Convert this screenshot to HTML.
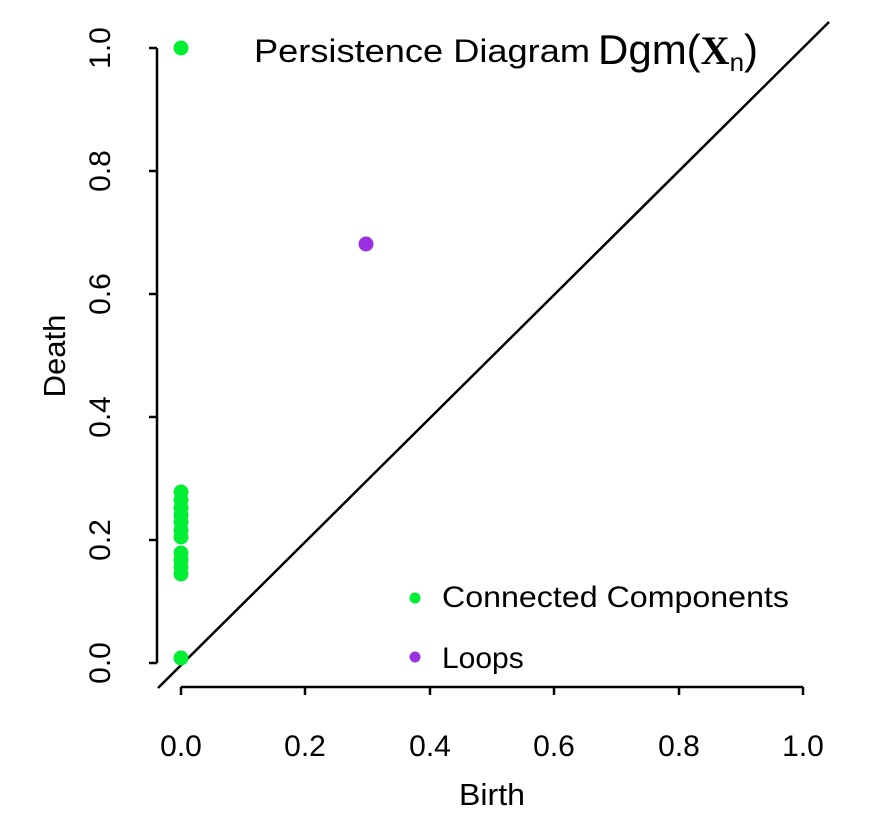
<!DOCTYPE html>
<html><head><meta charset="utf-8"><style>body{margin:0;background:#fff}svg{display:block}text{font-family:"Liberation Sans",sans-serif;fill:#000}</style></head><body>
<svg width="871" height="823" viewBox="0 0 871 823" xmlns="http://www.w3.org/2000/svg">
<g stroke="#000" stroke-width="2.5" fill="none">
<line x1="157" y1="48" x2="157" y2="663"/>
<line x1="149" y1="48" x2="157" y2="48"/>
<line x1="149" y1="171" x2="157" y2="171"/>
<line x1="149" y1="294" x2="157" y2="294"/>
<line x1="149" y1="417" x2="157" y2="417"/>
<line x1="149" y1="540" x2="157" y2="540"/>
<line x1="149" y1="663" x2="157" y2="663"/>
<line x1="181" y1="687" x2="803" y2="687"/>
<line x1="181" y1="687" x2="181" y2="695"/>
<line x1="305" y1="687" x2="305" y2="695"/>
<line x1="430" y1="687" x2="430" y2="695"/>
<line x1="554" y1="687" x2="554" y2="695"/>
<line x1="679" y1="687" x2="679" y2="695"/>
<line x1="803" y1="687" x2="803" y2="695"/>
<line x1="158" y1="688" x2="829" y2="22"/>
</g>
<g font-size="30" text-anchor="middle">
<text x="181" y="756">0.0</text><text x="305" y="756">0.2</text><text x="430" y="756">0.4</text><text x="554" y="756">0.6</text><text x="679" y="756">0.8</text><text x="803" y="756">1.0</text>
<text x="492" y="805" font-size="31" textLength="66" lengthAdjust="spacingAndGlyphs">Birth</text>
<text transform="translate(110,48) rotate(-90)">1.0</text>
<text transform="translate(110,171) rotate(-90)">0.8</text>
<text transform="translate(110,294) rotate(-90)">0.6</text>
<text transform="translate(110,417) rotate(-90)">0.4</text>
<text transform="translate(110,540) rotate(-90)">0.2</text>
<text transform="translate(110,663) rotate(-90)">0.0</text>
<text transform="translate(65,356) rotate(-90)" font-size="31">Death</text>
</g>
<text x="254" y="62" font-size="32" textLength="336" lengthAdjust="spacingAndGlyphs">Persistence Diagram</text>
<text x="598" y="64" font-size="42">Dgm(<tspan font-family="Liberation Serif" font-weight="bold" font-size="40">X</tspan><tspan font-size="26" dy="7">n</tspan><tspan dy="-7">)</tspan></text>
<g fill="#00ee33">
<circle cx="181" cy="48" r="7.5"/>
<circle cx="181" cy="492" r="7.5"/><circle cx="181" cy="500" r="7.5"/><circle cx="181" cy="508" r="7.5"/><circle cx="181" cy="515" r="7.5"/><circle cx="181" cy="522" r="7.5"/><circle cx="181" cy="530" r="7.5"/><circle cx="181" cy="537" r="7.5"/>
<circle cx="181" cy="553" r="7.5"/><circle cx="181" cy="560" r="7.5"/><circle cx="181" cy="567" r="7.5"/><circle cx="181" cy="574" r="7.5"/>
<circle cx="181" cy="658" r="7.5"/>
<circle cx="415" cy="598" r="5.5"/>
</g>
<circle cx="366" cy="244" r="7.5" fill="#9b30e0"/>
<circle cx="415" cy="657" r="5.5" fill="#9b30e0"/>
<g font-size="30"><text x="442" y="607" textLength="347" lengthAdjust="spacingAndGlyphs">Connected Components</text><text x="442" y="668">Loops</text></g>
</svg>
</body></html>
